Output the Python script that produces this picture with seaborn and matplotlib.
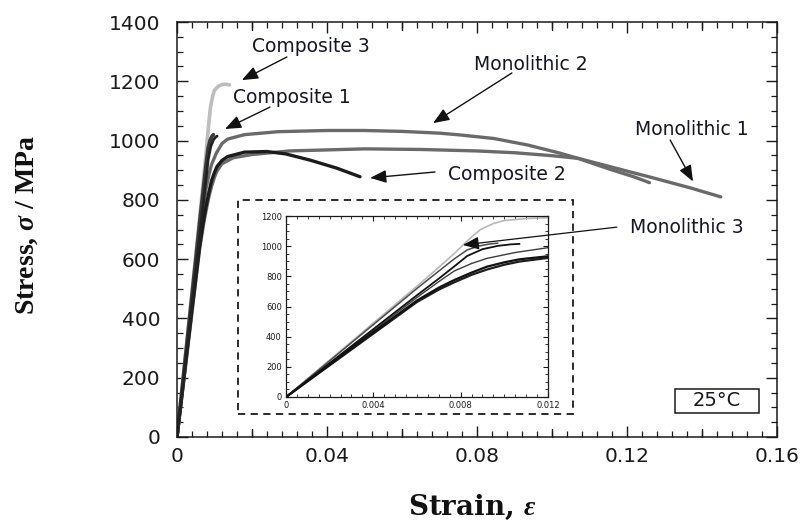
import matplotlib
matplotlib.use("Agg")
import matplotlib.pyplot as plt
import seaborn as sns
from matplotlib.ticker import MultipleLocator, FixedLocator, FixedFormatter
from matplotlib.patches import Rectangle

# ---- tensile curves at 25 °C (strain, stress in MPa) ----
comp3_strain = [0, 0.002, 0.004, 0.006, 0.0070, 0.0077, 0.0083, 0.0089, 0.0095, 0.0100, 0.0110, 0.0120, 0.0130, 0.0140]
comp3_stress = [0, 245, 490, 735, 860, 950, 1035, 1110, 1150, 1170, 1183, 1189, 1190, 1188]

comp1_strain = [0, 0.002, 0.004, 0.006, 0.0070, 0.0077, 0.0083, 0.0088, 0.0093, 0.0097]
comp1_stress = [0, 240, 480, 720, 835, 915, 975, 1000, 1014, 1020]

mono3_strain = [0, 0.002, 0.004, 0.006, 0.0070, 0.0077, 0.0083, 0.0090, 0.0097, 0.0103, 0.0107]
mono3_stress = [0, 225, 450, 675, 785, 865, 935, 980, 1002, 1012, 1015]

mono2_strain = [0, 0.002, 0.004, 0.006, 0.0070, 0.0077, 0.0085, 0.0092, 0.0105, 0.0120, 0.0135, 0.0180,
                0.0270, 0.0400, 0.0500, 0.0600, 0.0700, 0.0755, 0.0845, 0.0935, 0.1020, 0.1067, 0.1155,
                0.1220, 0.1260]
mono2_stress = [0, 220, 440, 660, 765, 835, 885, 919, 958, 990, 1005, 1020,
                1030, 1034, 1034, 1031, 1025, 1019, 1007, 985, 958, 941, 903,
                877, 858]

comp2_strain = [0, 0.002, 0.004, 0.006, 0.0070, 0.0077, 0.0085, 0.0092, 0.0100, 0.0107, 0.0120, 0.0135,
                0.0180, 0.0240, 0.0290, 0.0355, 0.0426, 0.0488]
comp2_stress = [0, 215, 430, 640, 725, 775, 825, 864, 893, 913, 933, 946,
                961, 963, 955, 934, 907, 878]

mono1_strain = [0, 0.002, 0.004, 0.006, 0.0070, 0.0077, 0.0085, 0.0092, 0.0100, 0.0107, 0.0120, 0.0150,
                0.0200, 0.0300, 0.0500, 0.0650, 0.0800, 0.0900, 0.1000, 0.1070, 0.1200, 0.1270,
                0.1370, 0.1450]
mono1_stress = [0, 210, 420, 630, 712, 760, 810, 845, 877, 898, 922, 942,
                953, 965, 972, 970, 965, 959, 949, 940, 897, 874,
                840, 810]

x_ticks = [0, 0.04, 0.08, 0.12, 0.16]
x_tick_labels = ["0", "0.04", "0.08", "0.12", "0.16"]
y_ticks = [0, 200, 400, 600, 800, 1000, 1200, 1400]
inset_x_ticks = [0, 0.004, 0.008, 0.012]
inset_x_labels = ["0", "0.004", "0.008", "0.012"]
inset_y_ticks = [0, 200, 400, 600, 800, 1000, 1200]

# series drawn in this order: (strain, stress, main colour, main width, inset colour, inset width)
series = [
    (comp3_strain, comp3_stress, "#bdbdbd", 2.6, "#b8b8b8", 1.2),
    (mono1_strain, mono1_stress, "#6a6a6a", 2.4, "#1e1e1e", 1.6),
    (mono2_strain, mono2_stress, "#6a6a6a", 2.4, "#3c3c3c", 1.0),
    (comp2_strain, comp2_stress, "#1c1c1c", 2.4, "#111111", 1.6),
    (comp1_strain, comp1_stress, "#3a3a3a", 2.6, "#4a4a4a", 1.1),
    (mono3_strain, mono3_stress, "#222222", 2.0, "#111111", 1.3),
]

sns.set_theme(style="ticks")
plt.rcParams["font.family"] = ["DejaVu Sans"]
plt.rcParams["mathtext.fontset"] = "custom"
plt.rcParams["mathtext.it"] = "Liberation Serif:italic:bold"
plt.rcParams["mathtext.rm"] = "Liberation Serif:bold"
plt.rcParams["mathtext.bf"] = "Liberation Serif:bold"

W, H = 803, 524
fig = plt.figure(figsize=(W / 100, H / 100), dpi=100)
fig.patch.set_facecolor("white")

# main axes (pixel box: x 177..777, y 22..437)
ax = fig.add_axes([177 / W, (H - 437) / H, 600 / W, 415 / H])
for sx, sy, c, lw, _, _ in series:
    sns.lineplot(x=sx, y=sy, ax=ax, color=c, lw=lw, estimator=None, sort=False,
                 solid_capstyle="round", solid_joinstyle="round")

ax.set_xlim(0, 0.16)
ax.set_ylim(0, 1400)
ax.xaxis.set_major_locator(FixedLocator(x_ticks))
ax.xaxis.set_major_formatter(FixedFormatter(x_tick_labels))
ax.xaxis.set_minor_locator(MultipleLocator(0.004))
ax.yaxis.set_major_locator(FixedLocator(y_ticks))
ax.yaxis.set_minor_locator(MultipleLocator(50))
ax.tick_params(which="both", direction="in", top=True, right=True, colors="#1a1a1a")
ax.tick_params(which="major", length=8, width=1.0, labelsize=14.5, pad=7)
ax.tick_params(axis="y", which="major", pad=12)
ax.tick_params(which="minor", length=4, width=0.9)
for sp in ax.spines.values():
    sp.set_linewidth(1.1)
    sp.set_color("#1a1a1a")
ax.set_xlabel("")
ax.set_ylabel("")

# intermediate long ticks at 0.02 spacing
for xv in [0.02, 0.06, 0.10, 0.14]:
    ax.plot([xv, xv], [0, 28], color="#1a1a1a", lw=1.0, clip_on=False)
    ax.plot([xv, xv], [1400 - 28, 1400], color="#1a1a1a", lw=1.0, clip_on=False)

# axis titles
fig.text(27 / W, (H - 225) / H, r"Stress, $\sigma$ / MPa", rotation=90, ha="center", va="center",
         fontsize=20, family="Liberation Serif", weight="bold", color="#111111")
fig.text(472 / W, (H - 507) / H, r"Strain, $\varepsilon$", ha="center", va="center",
         fontsize=20, family="DejaVu Serif", weight="bold", color="#111111")

# curve labels with arrows
labels = [
    ("Composite 3", (0.0357, 1316), (0.0293, 1282), (0.0173, 1204)),
    ("Composite 1", (0.0307, 1144), (0.0248, 1113), (0.0128, 1039)),
    ("Monolithic 2", (0.0944, 1258), (0.0893, 1228), (0.0683, 1059)),
    ("Monolithic 1", (0.1373, 1036), (0.1315, 1002), (0.1376, 862)),
    ("Composite 2", (0.0880, 884), (0.0688, 894), (0.0515, 874)),
]
arrow_kw = dict(arrowstyle="-|>,head_length=0.7,head_width=0.28", color="#111111", lw=1.0,
                shrinkA=0, shrinkB=0, mutation_scale=14)
for txt, tpos, tail, tip in labels:
    ax.text(*tpos, txt, ha="center", va="center", fontsize=13.5, color="#15152a")
    ax.annotate("", xy=tip, xytext=tail, arrowprops=arrow_kw)

ax.text(0.1360, 708, "Monolithic 3", ha="center", va="center", fontsize=13.5, color="#15152a")

# temperature tag
ax.add_patch(Rectangle((0.83, 0.058), 0.14, 0.058, transform=ax.transAxes,
                       fill=True, fc="white", ec="#1a1a1a", lw=1.1, zorder=5))
ax.text(0.90, 0.087, "25°C", transform=ax.transAxes, ha="center", va="center",
        fontsize=14, color="#15152a", zorder=6)

# dashed frame around the inset
fig.patches.append(Rectangle((238 / W, (H - 414) / H), 335 / W, 214 / H, transform=fig.transFigure,
                             fill=False, ec="#1a1a1a", lw=1.3, ls=(0, (4, 3))))

# inset: elastic region
axi = fig.add_axes([286 / W, (H - 397) / H, 262 / W, 181 / H])
axi.set_facecolor("white")
for sx, sy, _, _, c, lw in series:
    sns.lineplot(x=sx, y=sy, ax=axi, color=c, lw=lw, estimator=None, sort=False)
axi.set_xlim(0, 0.012)
axi.set_ylim(0, 1200)
axi.xaxis.set_major_locator(FixedLocator(inset_x_ticks))
axi.xaxis.set_major_formatter(FixedFormatter(inset_x_labels))
axi.xaxis.set_minor_locator(MultipleLocator(0.0005))
axi.yaxis.set_major_locator(FixedLocator(inset_y_ticks))
axi.yaxis.set_minor_locator(MultipleLocator(50))
axi.tick_params(which="both", direction="in", top=True, right=True, colors="#1a1a1a")
axi.tick_params(which="major", length=3.5, width=0.8, labelsize=6, pad=3)
axi.tick_params(which="minor", length=2, width=0.6)
for sp in axi.spines.values():
    sp.set_linewidth(0.9)
    sp.set_color("#1a1a1a")
axi.set_xlabel("")
axi.set_ylabel("")

# Monolithic 3 arrow reaches into the inset
axi.annotate("", xy=(0.0081, 1008), xycoords="data", xytext=(0.1173, 708), textcoords=ax.transData,
             arrowprops=dict(arrowstyle="-|>,head_length=0.7,head_width=0.28", color="#111111", lw=0.9,
                             shrinkA=0, shrinkB=0, mutation_scale=14),
             annotation_clip=False)

fig.savefig("out.png", dpi=100, facecolor="white")
